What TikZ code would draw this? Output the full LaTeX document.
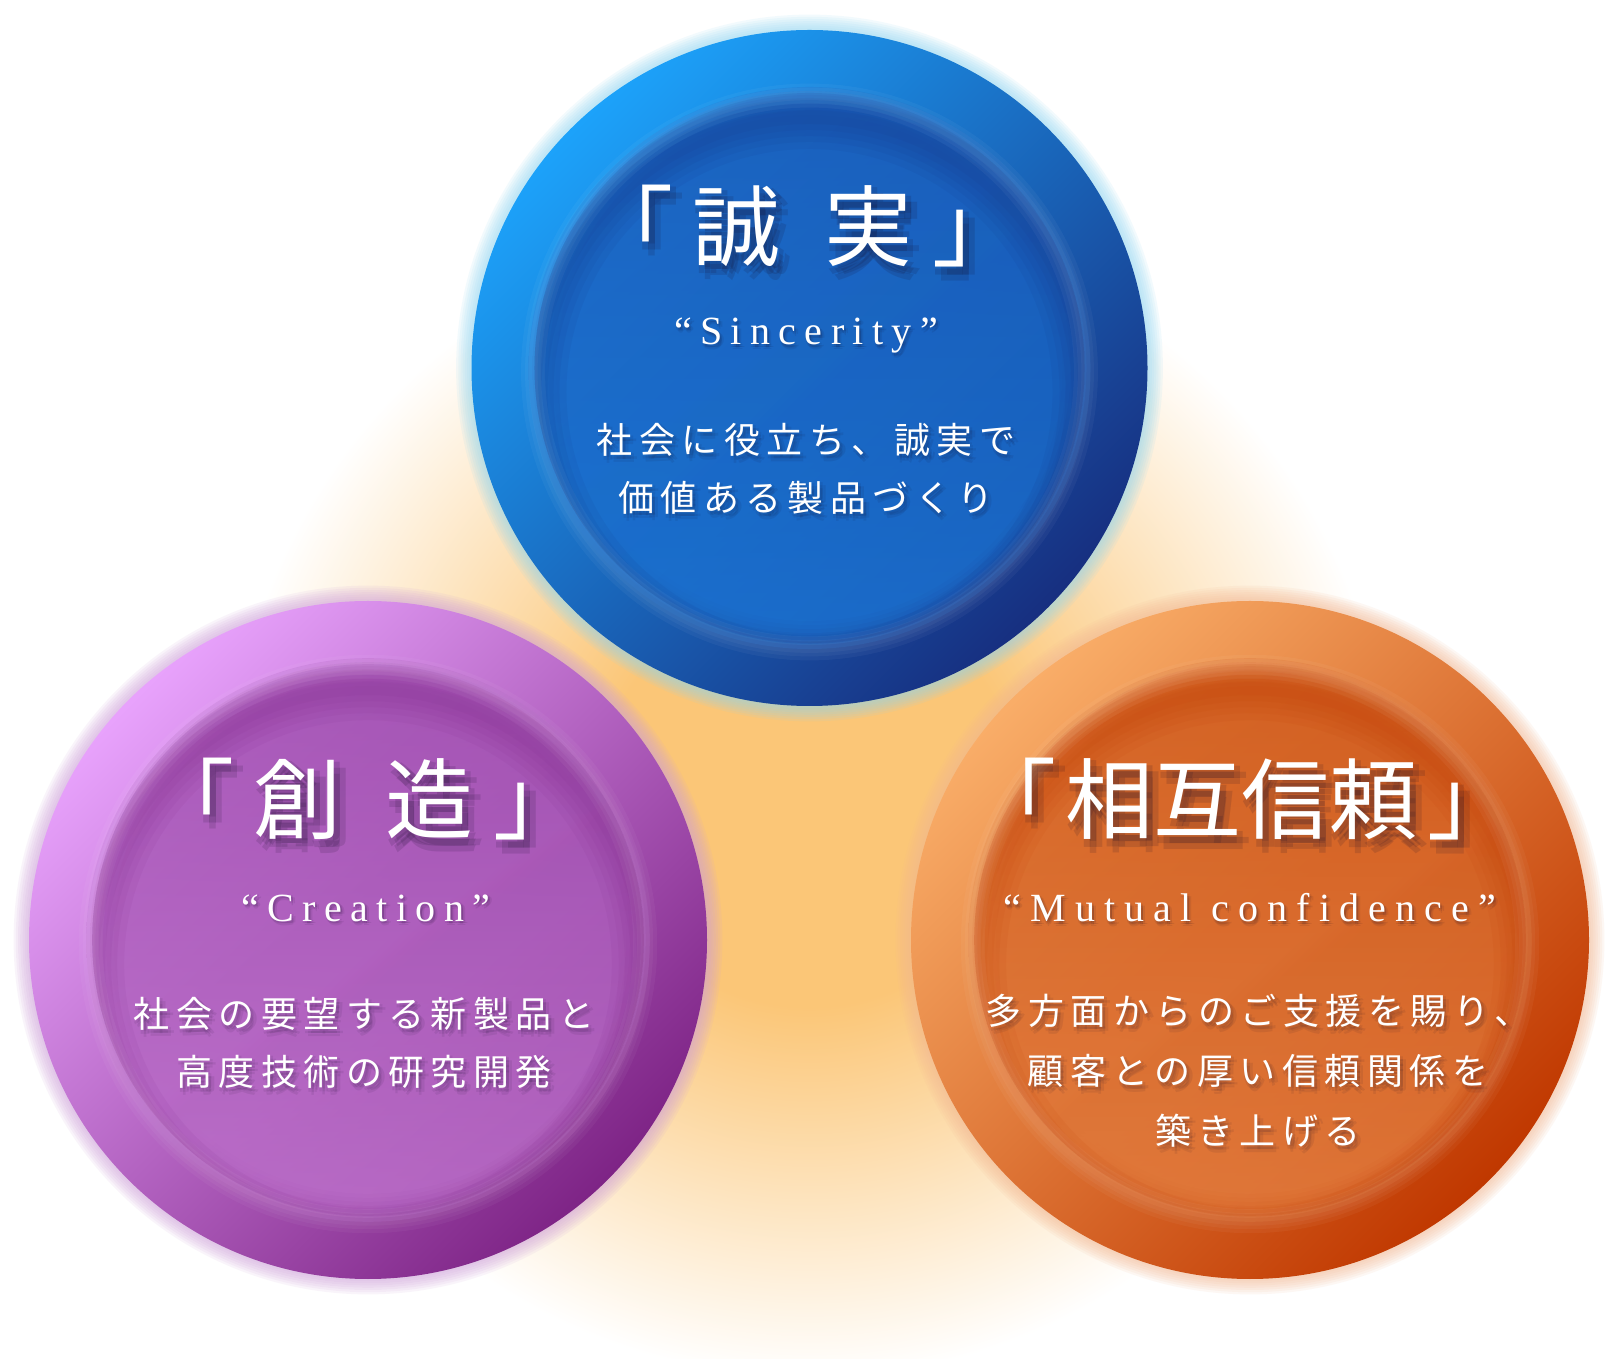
\documentclass[tikz,border=0pt]{standalone}
\usepackage{fontspec}
\newfontfamily\jp{Noto Sans CJK JP}
\newfontfamily\jpsp{Noto Sans CJK JP}[LetterSpace=18]
\newfontfamily\lat{Liberation Serif}[LetterSpace=21]
\newfontfamily\latw{Liberation Serif}[LetterSpace=23]
\definecolor{glowc}{HTML}{FBC677}
\definecolor{shadowc}{HTML}{140A28}
% blue
\definecolor{bTL}{HTML}{1CA2FA}
\definecolor{bMid}{HTML}{1C6FD0}
\definecolor{bBR}{HTML}{172F80}
\definecolor{bHalo}{HTML}{8FD6F2}
\definecolor{bIT}{HTML}{1A5CBA}
\definecolor{bIB}{HTML}{1E74D4}
% purple
\definecolor{pTL}{HTML}{E8A2FC}
\definecolor{pMid}{HTML}{B567C6}
\definecolor{pBR}{HTML}{7E2486}
\definecolor{pHalo}{HTML}{CFA0DA}
\definecolor{pIT}{HTML}{A04FB0}
\definecolor{pIB}{HTML}{BE72CC}
% orange
\definecolor{oTL}{HTML}{F9AD68}
\definecolor{oMid}{HTML}{E0712E}
\definecolor{oBR}{HTML}{C03800}
\definecolor{oHalo}{HTML}{F3B893}
\definecolor{oIT}{HTML}{D05A1C}
\definecolor{oIB}{HTML}{E47E40}
\pgfdeclareradialshading{bgglow}{\pgfpointorigin}{color(0bp)=(glowc); color(9bp)=(glowc); color(25bp)=(white); color(50bp)=(white)}
\newcommand\orb[4]{%
  \foreach \k in {1,...,7} \fill[#4Halo, opacity=0.11] (#1,#2) circle ({#3+2.2*\k});
  \shade[top color=#4TL, middle color=#4Mid, bottom color=#4BR, shading angle=45] (#1,#2) circle (#3);
  % soft recessed inner disc
  \foreach \d in {14,10,6,2,-2,-6,-10,-14} \shade[top color=#4IT, bottom color=#4IB, opacity=0.2] (#1,#2) circle ({0.79*#3+\d});
  \begin{scope}
    \clip (#1,#2) circle ({0.79*#3+8});
    \foreach \w in {64,50,38,26,14} \draw[#4BR, opacity=0.075, line width=\w pt] (#1,{#2-24}) circle ({0.79*#3+8});
  \end{scope}
  % highlight ring
  \foreach \w in {24,16,9} \draw[white, opacity=0.04, line width=\w pt] (#1,{#2-4}) circle ({0.8*#3+6});
}
\newcommand\shtext[7]{%
  \foreach \dx/\dy [count=\i] in {0/0,1/0,-1/0,0/1,0/-1}
    \node[text=shadowc, opacity=#7, font=#4, inner sep=0pt, align=center] (#1s\i) at ({#2+#6*(1+\dx)}, {#3-#6*(1.3+\dy)}) {#5};
  \node[text=white, font=#4, inner sep=0pt, align=center] (#1) at (#2,#3) {#5};
}
\begin{document}
\begin{tikzpicture}[x=1pt,y=1pt]
\useasboundingbox (0,0) rectangle (1620,1358);
\fill[white] (0,0) rectangle (1620,1358);
\clip (0,0) rectangle (1620,1358);
\shade[shading=bgglow] (809,560) circle (580);
\orb{809.5}{990}{338}{b}
\orb{368}{418}{339}{p}
\orb{1250}{418}{339}{o}
% blue texts
\shtext{t1}{803}{1132}{\jp\fontsize{88}{88}\selectfont}{「\hspace{20pt}誠\hspace{44pt}実\hspace{20pt}」}{6}{0.13}
\shtext{e1}{806}{1022}{\lat\fontsize{40}{40}\selectfont}{“Sincerity”}{2}{0.08}
\shtext{d1}{806}{889}{\jpsp\fontsize{36}{58}\selectfont}{社会に役立ち、誠実で\\価値ある製品づくり}{3}{0.08}
% purple texts
\shtext{t2}{364}{559}{\jp\fontsize{88}{88}\selectfont}{「\hspace{20pt}創\hspace{44pt}造\hspace{20pt}」}{6}{0.13}
\shtext{e2}{366}{450}{\lat\fontsize{40}{40}\selectfont}{“Creation”}{2}{0.08}
\shtext{d2}{364}{315}{\jpsp\fontsize{36}{58}\selectfont}{社会の要望する新製品と\\高度技術の研究開発}{3}{0.08}
% orange texts
\shtext{t3}{1242}{559}{\jp\fontsize{88}{88}\selectfont}{「\hspace{10pt}相互信頼\hspace{10pt}」}{6}{0.13}
\shtext{e3}{1250}{450}{\latw\fontsize{40}{40}\selectfont}{“Mutual confidence”}{2}{0.08}
\shtext{d3}{1258}{287}{\jpsp\fontsize{36}{60}\selectfont}{多方面からのご支援を賜り、\\顧客との厚い信頼関係を\\築き上げる}{3}{0.08}
\end{tikzpicture}
\end{document}
